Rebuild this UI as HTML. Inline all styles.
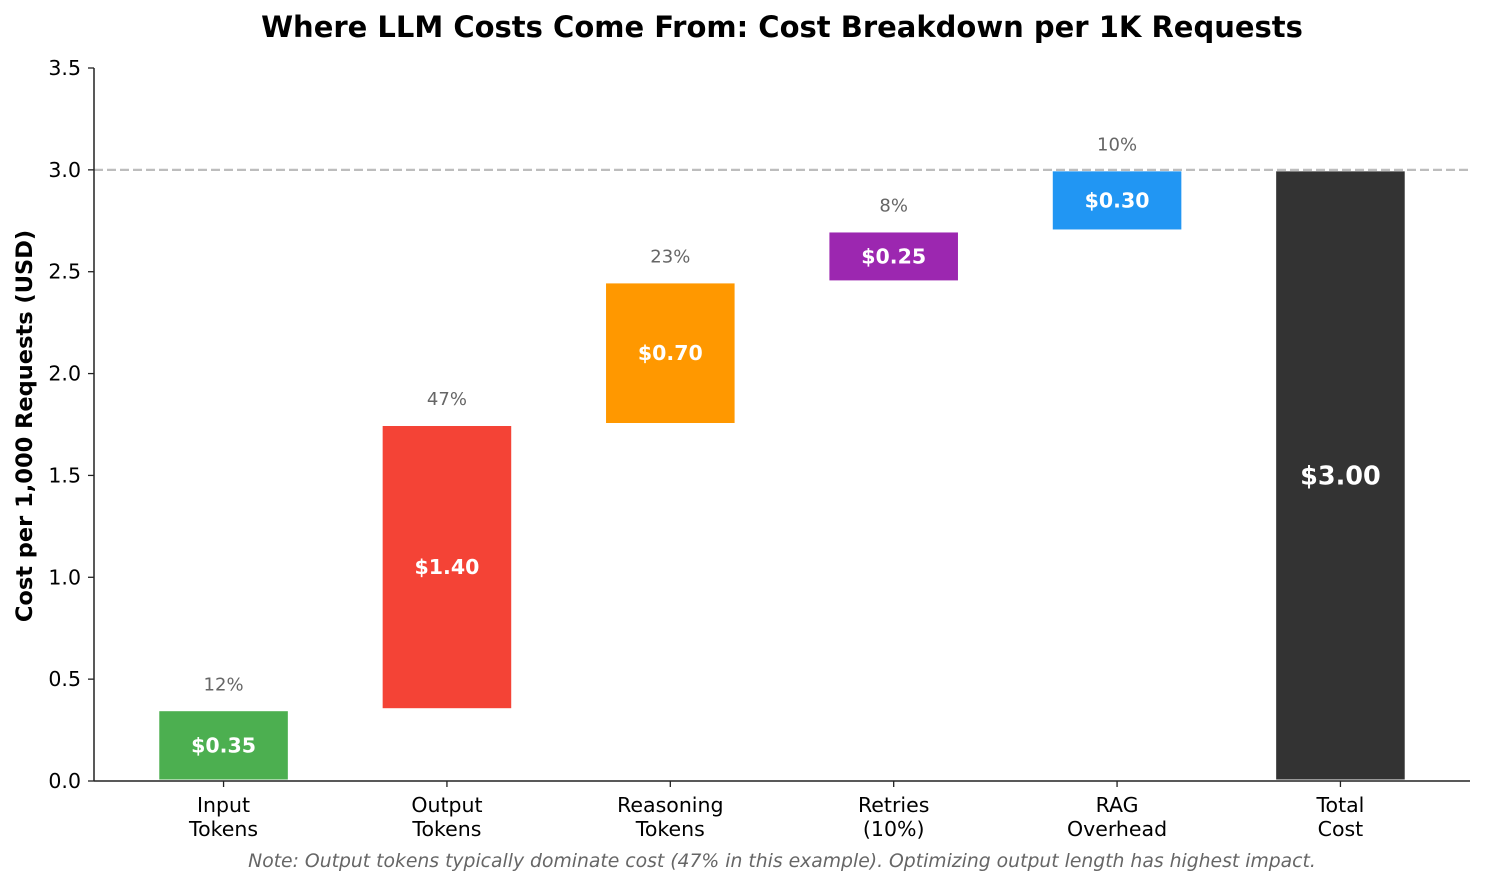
<!DOCTYPE html>
<html><head><meta charset="utf-8"><style>
html,body{margin:0;padding:0;background:#fff;}
svg{display:block;font-family:"DejaVu Sans","Liberation Sans",sans-serif;}
</style></head><body>
<svg id="chart" width="1485" height="886" viewBox="0 0 1485 886">
<text x="782" y="37" text-anchor="middle" font-size="29" font-weight="bold" fill="#000">Where LLM Costs Come From: Cost Breakdown per 1K Requests</text>
<text transform="translate(32,426) rotate(-90)" text-anchor="middle" font-size="22.5" font-weight="bold" fill="#000">Cost per 1,000 Requests (USD)</text>
<text x="782" y="867" text-anchor="middle" font-size="18.8" font-style="italic" fill="#666">Note: Output tokens typically dominate cost (47% in this example). Optimizing output length has highest impact.</text>
<g id="plot"></g>
</svg>
<script>
const categories = ["Input\nTokens","Output\nTokens","Reasoning\nTokens","Retries\n(10%)","RAG\nOverhead","Total\nCost"];
const values = [0.35,1.40,0.70,0.25,0.30,3.00];
const percents = ["12%","47%","23%","8%","10%",""];
const colors = ["#4caf50","#f44336","#ff9800","#9c27b0","#2196f3","#333333"];
const yTicks = [0,0.5,1.0,1.5,2.0,2.5,3.0,3.5];
const refLine = 3.0;

const NS="http://www.w3.org/2000/svg";
const g=document.getElementById('plot');
const X0=94,X1=1470,Y0=781,Y1=68,ymax=3.5,xmin=-0.58,xmax=5.58;
const y=v=>Y0-(v/ymax)*(Y0-Y1);
const x=i=>X0+(i-xmin)/(xmax-xmin)*(X1-X0);
function el(t,a){const e=document.createElementNS(NS,t);for(const k in a)e.setAttribute(k,a[k]);g.appendChild(e);return e;}

const rl=el('line',{x1:X0,x2:X1,y1:y(refLine),y2:y(refLine),stroke:'#bdbdbd','stroke-width':2.2,'stroke-dasharray':'9,4'});



const halfW=(x(1)-x(0))*0.58/2;
let cum=0;
values.forEach((v,i)=>{
  const isTotal=i===values.length-1;
  const b=isTotal?0:cum, t=isTotal?v:cum+v;
  const cx=x(i);
  const r=el('rect',{x:cx-halfW+0.5,y:y(t)+1.5,width:2*halfW-1,height:y(b)-y(t)-3,fill:colors[i]});
  
  
  const lbl=el('text',{x:cx,y:(y(t)+y(b))/2+(isTotal?9:7),'text-anchor':'middle','font-size':isTotal?25.5:20.5,'font-weight':'bold',fill:'#fff'});
  lbl.textContent='$'+v.toFixed(2);
  
  
  if(percents[i]){
    const p=el('text',{x:cx,y:y(t+0.1)+1,'text-anchor':'middle','font-size':18,fill:'#666'});
    p.textContent=percents[i];
    
    
  }
  const tk=el('line',{x1:cx,x2:cx,y1:Y0,y2:Y0+6,stroke:'#222','stroke-width':1.3});
  
  
  categories[i].split('\n').forEach((line,j)=>{
    const tl=el('text',{x:cx,y:Y0+31+j*24,'text-anchor':'middle','font-size':20.5,fill:'#000'});
    tl.textContent=line;
    
    
  });
  if(!isTotal) cum+=v;
});

yTicks.forEach(v=>{
  const tk=el('line',{x1:X0-6,x2:X0,y1:y(v),y2:y(v),stroke:'#222','stroke-width':1.3});
  
  
  const tl=el('text',{x:X0-13,y:y(v)+7,'text-anchor':'end','font-size':20.5,fill:'#000'});
  tl.textContent=v.toFixed(1);
  
  
});
const ax=el('line',{x1:X0,x2:X0,y1:Y1,y2:Y0,stroke:'#222','stroke-width':1.5});


const axx=el('line',{x1:X0,x2:X1,y1:Y0,y2:Y0,stroke:'#222','stroke-width':1.5});


</script>
</body></html>
